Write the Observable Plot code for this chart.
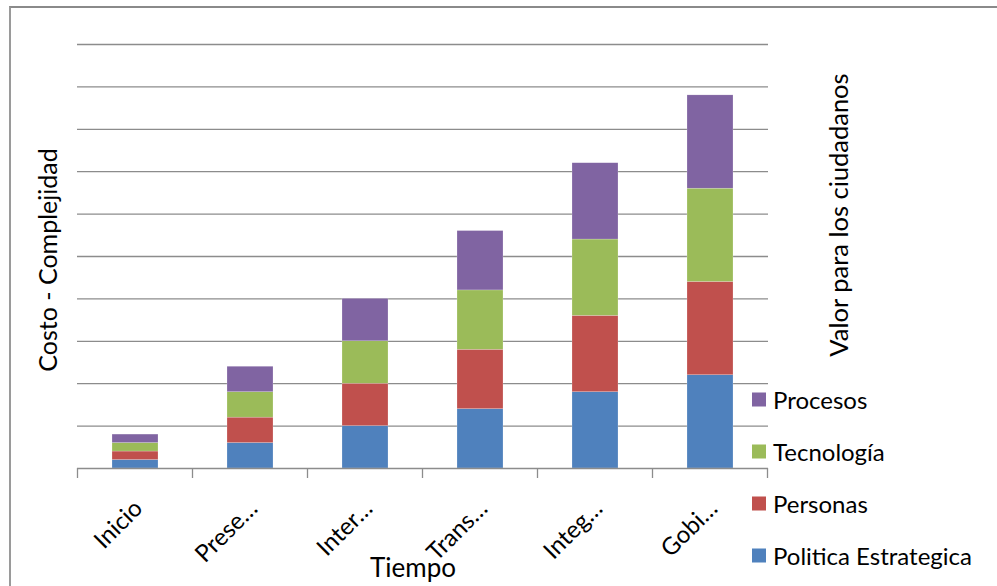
<!DOCTYPE html>
<html>
<head>
<meta charset="utf-8">
<script src="https://cdn.jsdelivr.net/npm/d3@7"></script>
<script src="https://cdn.jsdelivr.net/npm/@observablehq/plot@0.6"></script>
<style>
  html, body { margin: 0; padding: 0; background: #fff; }
  #wrap { position: relative; width: 997px; height: 586px; overflow: hidden; font-family: Lato, "Open Sans", sans-serif; color: #000; }
  #frame { position: absolute; left: 9px; top: 6px; width: 1000px; height: 600px; border-top: 2px solid #8a8a8a; border-left: 2px solid #9a9a9a; box-sizing: border-box; pointer-events: none; }
  .lbl { position: absolute; white-space: nowrap; }
  #ylab { left: 47px; top: 260px; font-size: 25px; transform: translate(-50%, -50%) rotate(-90deg); }
  #rlab { left: 838px; top: 215px; font-size: 25.5px; transform: translate(-50%, -50%) rotate(-90deg); }
  #xlab { left: 413px; top: 567px; font-size: 26px; transform: translate(-50%, -50%); }
  #legend { position: absolute; left: 752px; top: 0; }
  .item { position: absolute; left: 0; display: flex; align-items: center; white-space: nowrap; font-size: 24px; transform: translateY(-50%); }
  .sw { width: 14px; height: 14px; margin-right: 7px; }
</style>
</head>
<body>
<div id="wrap">
  <div id="chart"></div>
  <div id="frame"></div>
  <div class="lbl" id="ylab">Costo - Complejidad</div>
  <div class="lbl" id="rlab">Valor para los ciudadanos</div>
  <div class="lbl" id="xlab">Tiempo</div>
  <div id="legend"></div>
</div>
<script>
const categories = ["Inicio", "Prese…", "Inter…", "Trans…", "Integ…", "Gobi…"];
const seriesNames = ["Politica Estrategica", "Personas", "Tecnología", "Procesos"];
const seriesColors = ["#4F81BD", "#C0504D", "#9BBB59", "#8064A2"];
const politica = [0.2, 0.6, 1.0, 1.4, 1.8, 2.2];
const personas = [0.2, 0.6, 1.0, 1.4, 1.8, 2.2];
const tecnologia = [0.2, 0.6, 1.0, 1.4, 1.8, 2.2];
const procesos = [0.2, 0.6, 1.0, 1.4, 1.8, 2.2];
const gridValues = [1, 2, 3, 4, 5, 6, 7, 8, 9, 10];

const seriesValues = [politica, personas, tecnologia, procesos];
const data = [];
seriesNames.forEach((s, si) => {
  categories.forEach((c, ci) => data.push({cat: c, series: s, value: seriesValues[si][ci]}));
});

const plot = Plot.plot({
  width: 997,
  height: 586,
  marginLeft: 77,
  marginRight: 229,
  marginTop: 44,
  marginBottom: 118,
  style: {background: "transparent", fontFamily: "Lato, 'Open Sans', sans-serif"},
  x: {domain: categories, paddingInner: 0.6, paddingOuter: 0.3, axis: null},
  y: {domain: [0, 10], axis: null},
  color: {domain: seriesNames, range: seriesColors},
  marks: [
    Plot.ruleY(gridValues, {stroke: "#8c8c8c", strokeWidth: 1.3}),
    Plot.barY(data, {x: "cat", y: "value", fill: "series", stroke: "#ffffff", strokeWidth: 0.4, strokeOpacity: 0.5}),
    Plot.ruleY([0], {stroke: "#8c8c8c", strokeWidth: 1.3}),
    Plot.text(categories, {x: d => d, y: 0, text: d => d, rotate: -45, textAnchor: "end", dx: 3, dy: 36, fontSize: 24, fill: "#000"})
  ]
});
document.getElementById("chart").appendChild(plot);

// tick marks at band boundaries on the category axis
const xs = plot.scale("x");
const ys = plot.scale("y");
const y0 = ys.apply(0);
const edges = categories.map(c => xs.apply(c) + xs.bandwidth / 2 - xs.step / 2);
edges.push(xs.apply(categories[categories.length - 1]) + xs.bandwidth / 2 + xs.step / 2);
const svg = d3.select(plot);
svg.append("g").selectAll("line").data(edges).join("line")
  .attr("x1", d => d).attr("x2", d => d)
  .attr("y1", y0).attr("y2", y0 + 10)
  .attr("stroke", "#8c8c8c").attr("stroke-width", 1.3);

// legend (top to bottom: reverse of stacking order)
const legendTops = [399, 451, 503, 555];
const leg = document.getElementById("legend");
seriesNames.slice().reverse().forEach((s, i) => {
  const idx = seriesNames.indexOf(s);
  const it = document.createElement("div");
  it.className = "item";
  it.style.top = legendTops[i] + "px";
  const sw = document.createElement("div");
  sw.className = "sw";
  sw.style.background = seriesColors[idx];
  const t = document.createElement("span");
  t.textContent = s;
  it.appendChild(sw);
  it.appendChild(t);
  leg.appendChild(it);
});
</script>
</body>
</html>
